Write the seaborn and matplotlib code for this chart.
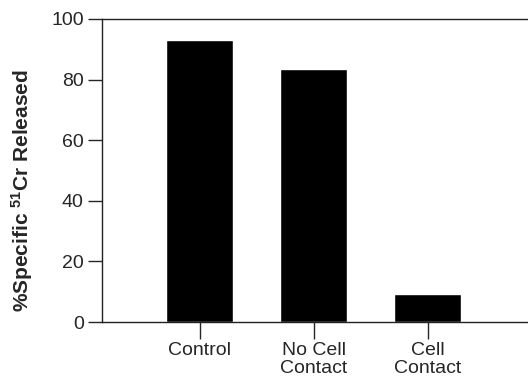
import numpy as np
import matplotlib
matplotlib.use("Agg")
import matplotlib.pyplot as plt
import pandas as pd
import seaborn as sns

groups = ["Control", "No Cell\nContact", "Cell\nContact"]
released = [93, 83.5, 9.2]

df = pd.DataFrame({"group": groups, "released": released})

sns.set_style("ticks")
plt.rcParams["font.family"] = ["Liberation Sans", "DejaVu Sans"]
plt.rcParams["mathtext.fontset"] = "custom"
plt.rcParams["mathtext.rm"] = "Liberation Sans"
plt.rcParams["mathtext.bf"] = "Liberation Sans:bold"

fig = plt.figure(figsize=(5.28, 3.78), dpi=100)
ax = fig.add_axes([0.193, 0.148, 0.807, 0.802])

sns.barplot(data=df, x="group", y="released", color="black", width=0.59,
            saturation=1, ax=ax)

ax.set_xlim(-0.86, 2.88)
ax.set_ylim(0, 100)
ax.set_yticks([0, 20, 40, 60, 80, 100])
ax.set_xlabel("")
ax.set_ylabel(r"%Specific $\mathbf{^{51}}$Cr Released", fontsize=15,
              fontweight="bold")
ax.yaxis.set_label_coords(-0.157, 0.435)

ax.tick_params(axis="y", length=10, width=1, labelsize=14, pad=3)
ax.tick_params(axis="x", length=12, width=1, labelsize=14, pad=2)
for lab in ax.get_xticklabels():
    lab.set_linespacing(1.15)

ax.spines["right"].set_visible(False)
for s in ["left", "top", "bottom"]:
    ax.spines[s].set_linewidth(1)
    ax.spines[s].set_color("#222222")

fig.savefig("out.png", dpi=100)
